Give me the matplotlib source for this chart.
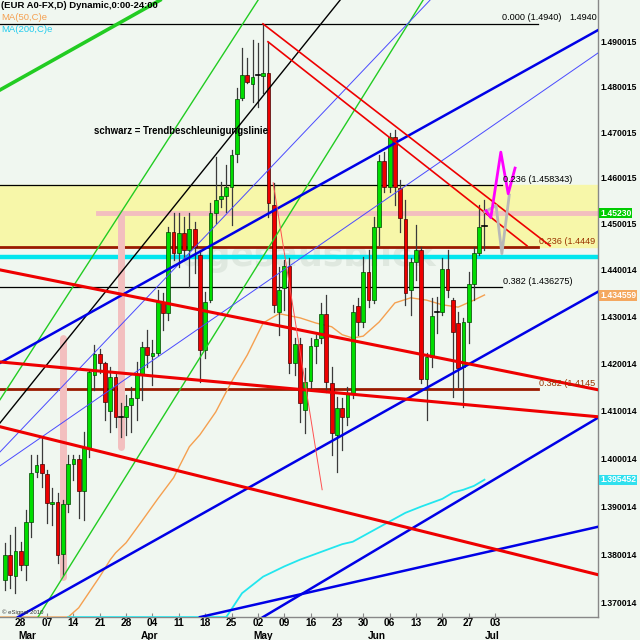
import matplotlib
matplotlib.use("Agg")
import matplotlib.pyplot as plt
from matplotlib.ticker import FixedLocator, NullLocator, FixedFormatter

plt.rcParams['font.family'] = ['Liberation Sans', 'DejaVu Sans']

# daily candles, bar index 0 = first visible bar (23 Feb)
opens = [1.3748, 1.3799, 1.3756, 1.3807, 1.3778, 1.3867, 1.3971, 1.3988, 1.3967, 1.3905,
         1.3909, 1.3801, 1.3905, 1.3988, 1.3999, 1.3932, 1.4022, 1.4176, 1.4220, 1.4201,
         1.4099, 1.4171, 1.4088, 1.4087, 1.4112, 1.4127, 1.4176, 1.4235, 1.4216, 1.4222,
         1.4329, 1.4308, 1.4482, 1.4437, 1.4480, 1.4443, 1.4489, 1.4432, 1.4229, 1.4335,
         1.4523, 1.4554, 1.4560, 1.4580, 1.4652, 1.4775, 1.4826, 1.4806, 1.4824, 1.4824,
         1.4831, 1.4541, 1.4310, 1.4361, 1.4409, 1.4201, 1.4241, 1.4102, 1.4163, 1.4237,
         1.4254, 1.4306, 1.4159, 1.4049, 1.4106, 1.4087, 1.4137, 1.4323, 1.4288, 1.4396,
         1.4335, 1.4493, 1.4637, 1.4580, 1.4689, 1.4578, 1.4510, 1.4357, 1.4417, 1.4443,
         1.4167, 1.4214, 1.4308, 1.4310, 1.4402, 1.4335, 1.4286, 1.4193, 1.4288, 1.4370,
         1.4437, 1.4493]
highs = [1.3824, 1.3840, 1.3857, 1.3826, 1.3892, 1.4007, 1.4007, 1.4043, 1.3976, 1.3938,
         1.3928, 1.3913, 1.4007, 1.4007, 1.4007, 1.4055, 1.4186, 1.4239, 1.4231, 1.4203,
         1.4193, 1.4180, 1.4116, 1.4133, 1.4150, 1.4203, 1.4246, 1.4271, 1.4250, 1.4357,
         1.4351, 1.4493, 1.4523, 1.4523, 1.4515, 1.4523, 1.4504, 1.4443, 1.4353, 1.4545,
         1.4645, 1.4591, 1.4628, 1.4661, 1.4797, 1.4886, 1.4864, 1.4904, 1.4897, 1.4940,
         1.4900, 1.4589, 1.4407, 1.4422, 1.4426, 1.4254, 1.4254, 1.4191, 1.4254, 1.4261,
         1.4329, 1.4346, 1.4193, 1.4129, 1.4127, 1.4150, 1.4325, 1.4340, 1.4428, 1.4443,
         1.4515, 1.4650, 1.4656, 1.4698, 1.4705, 1.4595, 1.4552, 1.4426, 1.4497, 1.4450,
         1.4222, 1.4340, 1.4342, 1.4426, 1.4443, 1.4340, 1.4310, 1.4297, 1.4396, 1.4450,
         1.4541, 1.4552]
lows = [1.3727, 1.3731, 1.3721, 1.3768, 1.3748, 1.3836, 1.3961, 1.3940, 1.3865, 1.3861,
        1.3783, 1.3758, 1.3888, 1.3955, 1.3876, 1.3871, 1.4003, 1.4144, 1.4180, 1.4081,
        1.4055, 1.4066, 1.4045, 1.4049, 1.4055, 1.4081, 1.4123, 1.4193, 1.4154, 1.4218,
        1.4271, 1.4293, 1.4422, 1.4407, 1.4422, 1.4363, 1.4394, 1.4161, 1.4212, 1.4331,
        1.4502, 1.4536, 1.4525, 1.4497, 1.4634, 1.4771, 1.4809, 1.4766, 1.4755, 1.4786,
        1.4515, 1.4310, 1.4261, 1.4314, 1.4180, 1.4176, 1.4076, 1.4053, 1.4144, 1.4201,
        1.4244, 1.4140, 1.4007, 1.3971, 1.4017, 1.4070, 1.4127, 1.4261, 1.4278, 1.4320,
        1.4329, 1.4454, 1.4569, 1.4569, 1.4541, 1.4482, 1.4325, 1.4303, 1.4378, 1.4159,
        1.4081, 1.4193, 1.4265, 1.4303, 1.4342, 1.4129, 1.4150, 1.4108, 1.4244, 1.4335,
        1.4432, 1.4443]
closes = [1.3799, 1.3758, 1.3807, 1.3778, 1.3867, 1.3969, 1.3986, 1.3969, 1.3907, 1.3909,
          1.3799, 1.3905, 1.3988, 1.3999, 1.3932, 1.4022, 1.4182, 1.4220, 1.4201, 1.4118,
          1.4171, 1.4087, 1.4086, 1.4110, 1.4127, 1.4176, 1.4235, 1.4218, 1.4222, 1.4331,
          1.4308, 1.4482, 1.4437, 1.4480, 1.4443, 1.4489, 1.4450, 1.4229, 1.4331, 1.4523,
          1.4552, 1.4560, 1.4580, 1.4650, 1.4773, 1.4826, 1.4811, 1.4822, 1.4826, 1.4831,
          1.4545, 1.4325, 1.4357, 1.4409, 1.4201, 1.4241, 1.4116, 1.4161, 1.4237, 1.4252,
          1.4306, 1.4161, 1.4053, 1.4106, 1.4087, 1.4137, 1.4310, 1.4288, 1.4396, 1.4335,
          1.4493, 1.4637, 1.4580, 1.4689, 1.4580, 1.4512, 1.4351, 1.4417, 1.4443, 1.4167,
          1.4214, 1.4301, 1.4310, 1.4402, 1.4357, 1.4267, 1.4191, 1.4288, 1.4370, 1.4437,
          1.4493, 1.4494]

ma50_x = [-1, 12, 14, 18, 20, 21, 23, 26, 29, 32, 35, 37, 40, 43, 46, 49, 52, 56, 59, 62,
          64, 66, 68, 71, 74, 77, 80, 83, 86, 89, 91]
ma50_y = [1.3671, 1.3671, 1.3690, 1.3754, 1.3789, 1.3803, 1.3824, 1.3869, 1.3915, 1.3959,
          1.4024, 1.4049, 1.4097, 1.4161, 1.4218, 1.4286, 1.4306, 1.4297, 1.4286, 1.4278,
          1.4261, 1.4254, 1.4258, 1.4288, 1.4329, 1.4340, 1.4335, 1.4325, 1.4320, 1.4335,
          1.4346]
ma200_x = [12, 42, 45, 49, 53, 56, 60, 64, 66, 69, 72, 76, 79, 83, 85, 87, 89, 91]
ma200_y = [1.3671, 1.3671, 1.3720, 1.3754, 1.3775, 1.3789, 1.3805, 1.3821, 1.3826, 1.3844,
           1.3862, 1.3886, 1.3899, 1.3915, 1.3928, 1.3934, 1.3942, 1.3955]

# drawn trend lines: (bar0, price0, bar1, price1)
green_thick = [(-0.93, 1.4793, 29.43, 1.4993)]
green_thin = [(-0.93, 1.4123, 48.03, 1.4993), (6.28, 1.3671, 79.34, 1.4993)]
black_line = [(-0.93, 1.4074, 63.59, 1.4993)]
blue_thick = [(-0.93, 1.4201, 112.54, 1.4926), (2.49, 1.3671, 112.54, 1.4353),
              (37.02, 1.3671, 112.54, 1.3857), (48.97, 1.3671, 112.54, 1.4085)]
blue_thin = [(-0.93, 1.4013, 80.66, 1.4993), (-0.93, 1.3984, 112.54, 1.4875)]
red_thick = [(-0.93, 1.4203, 112.54, 1.4087), (-0.93, 1.4400, 112.54, 1.4144),
             (-0.93, 1.4066, 112.54, 1.3758)]
red_mid = [(48.97, 1.4940, 103.44, 1.4452), (49.92, 1.4900, 99.07, 1.4452)]
red_thin = [(50.9, 1.4589, 60.2, 1.3934)]

# fibonacci / horizontal levels
fib_black = [1.4940, 1.458343, 1.436275]
fib_black_end = [101.2, 94.3, 94.3]
fib_brown = [1.4449, 1.4145]
cyan_level = 1.4428
pink_level = 1.4523
pink_marks = [(11, 1.3754, 1.4254), (22, 1.4024, 1.4523)]

# projection zigzags
proj_mag_x = [91.3, 92.2, 94.1, 95.5, 96.8]
proj_mag_y = [1.4528, 1.4513, 1.4656, 1.4565, 1.4621]
proj_gray_x = [91.1, 93.2, 94.3, 95.7]
proj_gray_y = [1.4526, 1.4539, 1.4435, 1.4562]

price_ticks = [1.490015, 1.480015, 1.470015, 1.460015, 1.450015, 1.440014, 1.430014,
               1.420014, 1.410014, 1.400014, 1.390014, 1.380014, 1.370014]
day_pos = [3 + 5 * k for k in range(19)]
day_labels = ['28', '07', '14', '21', '28', '04', '11', '18', '25', '02', '09', '16',
              '23', '30', '06', '13', '20', '27', '03']
month_pos = [4.2, 27.5, 49.0, 70.6, 92.4]
month_labels = ['Mar', 'Apr', 'May', 'Jun', 'Jul']

BG = '#f0f7f0'
W, H = 640, 640
fig = plt.figure(figsize=(6.4, 6.4), dpi=100, facecolor=BG)
ax = fig.add_axes([0, 23 / H, 598 / W, 617 / H], facecolor=BG)
ax.set_yscale('log')
ax.set_xlim(-0.93, 112.54)
ax.set_ylim(1.36712, 1.49934)

# background watermark
ax.text(56, 1.4430, 'Tagesausblick', fontsize=25, fontweight='bold', color='#dfe8df',
        ha='center', va='center', zorder=0.5, family='DejaVu Sans')

# band and horizontal levels
ax.axhspan(fib_brown[0], fib_black[1], color='#f7f7a9', zorder=1)
for lvl, xe in zip(fib_black, fib_black_end):
    ax.plot([-0.93, xe], [lvl, lvl], color='black', lw=0.9, zorder=2)
for lvl in fib_brown:
    ax.plot([-0.93, 101.2], [lvl, lvl], color='#9a1a00', lw=2.0, zorder=2)
ax.axhline(cyan_level, color='#00e6ee', lw=3.2, zorder=2)
ax.plot([17.7, 112.54], [pink_level, pink_level], color='#f3bfbf', lw=3.5, zorder=2)
for bx, lo, hi in pink_marks:
    ax.plot([bx, bx], [lo, hi], color='#f3bfbf', lw=5, solid_capstyle='round', zorder=2)

# moving averages
ax.plot(ma50_x, ma50_y, color='#f5a050', lw=1.0, zorder=3)
ax.plot(ma200_x, ma200_y, color='#22e6ee', lw=1.3, zorder=3)

# candles
for i, (o, h, l, c) in enumerate(zip(opens, highs, lows, closes)):
    ax.plot([i, i], [l, h], color='#3a3a3a', lw=0.9, zorder=4)
    if abs(c - o) < 0.00025:
        ax.plot([i - 0.4, i + 0.4], [c, c], color='black', lw=1.2, zorder=5)
        continue
    up = c > o
    ax.bar(i, abs(c - o), bottom=min(o, c), width=0.72,
           color='#00dd00' if up else '#ee0000',
           edgecolor='#004400' if up else '#440000', linewidth=0.5, zorder=5)

def seg(lines, color, lw, z=6):
    for x0, y0, x1, y1 in lines:
        ax.plot([x0, x1], [y0, y1], color=color, lw=lw, zorder=z)

seg(green_thick, '#22cc22', 2.6)
seg(green_thin, '#22cc22', 1.0)
seg(black_line, 'black', 1.0)
seg(blue_thin, '#4a4aff', 0.7)
seg(blue_thick, '#0000e6', 1.8)
seg(red_thick, '#ee0000', 2.2)
seg(red_mid, '#ee0000', 1.2)
seg(red_thin, '#ff5050', 0.7)

ax.plot(proj_gray_x, proj_gray_y, color='#b8b8b8', lw=2.0, zorder=7)
ax.plot(proj_mag_x, proj_mag_y, color='#ff00ff', lw=2.0, zorder=7)

# axes styling
for s in ['top', 'left']:
    ax.spines[s].set_visible(False)
for s in ['bottom', 'right']:
    ax.spines[s].set_color('#888888')
    ax.spines[s].set_linewidth(1.0)
ax.yaxis.set_major_locator(FixedLocator(price_ticks))
ax.yaxis.set_major_formatter(FixedFormatter(['%.6f' % v for v in price_ticks]))
ax.yaxis.set_minor_locator(NullLocator())
ax.yaxis.tick_right()
ax.tick_params(axis='y', length=0, pad=2, labelsize=6.2)
for t in ax.get_yticklabels():
    t.set_fontweight('bold')
ax.set_xticks(day_pos)
ax.set_xticklabels(day_labels, fontsize=7.3, fontweight='bold')
ax.tick_params(axis='x', direction='in', length=3, color='#888888', pad=1)
for mp, ml in zip(month_pos, month_labels):
    ax.text(mp, -0.031, ml, transform=ax.get_xaxis_transform(), ha='center', va='center',
            fontsize=7.3, fontweight='bold')

# value boxes on the price scale
for val, txt, fc in [(1.4523, '1.45230', '#00cc00'), (1.434559, '1.434559', '#f4a860'),
                     (1.395452, '1.395452', '#30e0ee')]:
    ax.annotate(txt, xy=(1.0, val), xycoords=('axes fraction', 'data'),
                xytext=(2, 0), textcoords='offset pixels', ha='left', va='center',
                fontsize=6.2, fontweight='bold', color='white',
                bbox=dict(boxstyle='square,pad=0.1', fc=fc, ec='none'), annotation_clip=False)

def ftext(px, py, s, **kw):
    fig.text(px / W, 1 - py / H, s, va='center', **kw)

ftext(1, 5, '(EUR A0-FX,D) Dynamic,0:00-24:00', fontsize=6.8, fontweight='bold')
ftext(1, 17, 'MA(50,C)e', fontsize=6.8, color='#f5a050')
ftext(1, 29, 'MA(200,C)e', fontsize=6.8, color='#22ccee')
ftext(94, 131, 'schwarz = Trendbeschleunigungslinie', fontsize=6.9, fontweight='bold')
ftext(502, 17, '0.000 (1.4940)', fontsize=6.6)
ftext(597, 17, '1.4940', fontsize=6.6, ha='right')
ftext(503, 179, '0.236 (1.458343)', fontsize=6.6)
ftext(503, 281, '0.382 (1.436275)', fontsize=6.6)
ftext(539, 241, '0.236 (1.4449', fontsize=6.6, color='#993300')
ftext(539, 383, '0.382 (1.4145', fontsize=6.6, color='#993300')
ftext(2, 612, '\u00a9 eSignal 2010', fontsize=4.3, color='#333333')

fig.savefig('out.png', dpi=100, facecolor=BG)
